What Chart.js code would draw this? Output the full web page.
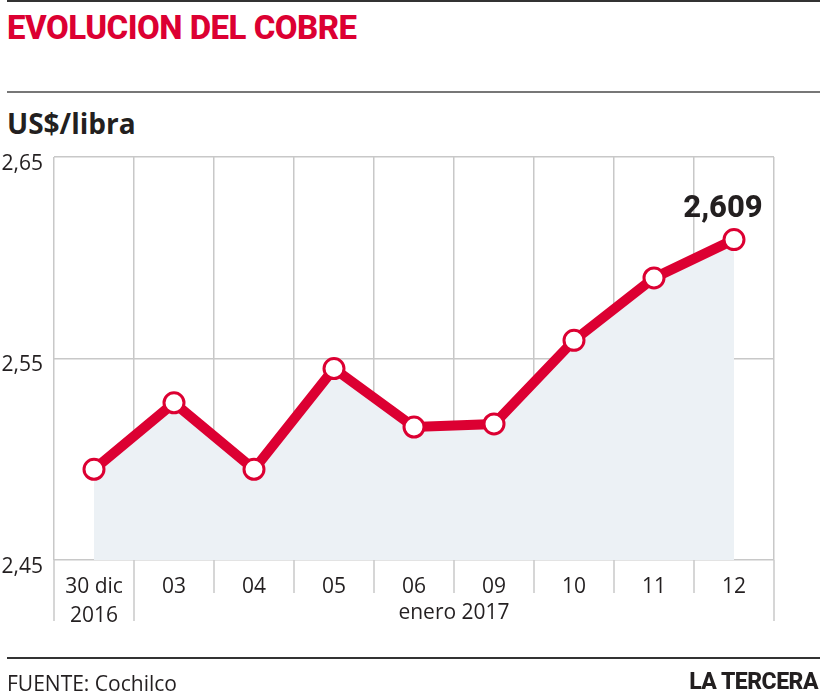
<!DOCTYPE html>
<html>
<head>
<meta charset="utf-8">
<script src="https://cdn.jsdelivr.net/npm/chart.js@4.4.1/dist/chart.umd.min.js"></script>
<style>
  html, body { margin: 0; padding: 0; background: #fff; }
  body { width: 820px; height: 700px; position: relative; overflow: hidden; font-family: "Open Sans", sans-serif; color: #231f20; }
  .rule { position: absolute; left: 7px; right: 0; height: 2px; }
  #title { position: absolute; left: 7px; top: 8px; font: 800 33px Roboto, sans-serif; color: #dc0032; letter-spacing: -0.5px; }
  #unit { position: absolute; left: 7px; top: 104px; font: 700 28px "Open Sans", sans-serif; }
  #source { position: absolute; left: 7px; top: 669px; font: 400 21px "Open Sans", sans-serif; }
  #brand { position: absolute; right: 2px; top: 668px; font: 800 23px Roboto, sans-serif; letter-spacing: -0.5px; }
  canvas { position: absolute; left: 0; top: 0; }
</style>
</head>
<body>
<div class="rule" style="top:0;background:#333"></div>
<div id="title">EVOLUCION DEL COBRE</div>
<div class="rule" style="top:91px;background:#777"></div>
<div id="unit">US$/libra</div>
<canvas id="chart" width="820" height="700"></canvas>
<div class="rule" style="top:657px;background:#333"></div>
<div id="source">FUENTE: Cochilco</div>
<div id="brand">LA TERCERA</div>

<script>
// chart data
const labels = [["30 dic", "2016"], "03", "04", "05", "06", "09", "10", "11", "12"];
const prices = [2.495, 2.528, 2.495, 2.545, 2.516, 2.5175, 2.559, 2.590, 2.609];
const yTicks = [2.45, 2.55, 2.65];
const groupLabel = "enero 2017";
const lastLabel = "2,609";

const red = "#dc0032";
const gridColor = "#c8c8c8";
const textColor = "#231f20";

// extra bits: longer grid lines under axis, month label, last value
const extras = {
  id: "extras",
  afterDraw(chart) {
    const { ctx, chartArea } = chart;
    const x = chart.scales.x;
    ctx.save();
    ctx.strokeStyle = gridColor;
    ctx.lineWidth = 1.5;
    for (let i = 0; i <= labels.length; i++) {
      const px = x.getPixelForValue(i - 0.5);
      const long = i <= 1 || i === labels.length;
      ctx.beginPath();
      ctx.moveTo(px, chartArea.bottom);
      ctx.lineTo(px, chartArea.bottom + (long ? 61 : 33));
      ctx.stroke();
    }

    ctx.fillStyle = textColor;
    ctx.font = '400 21px "Open Sans", sans-serif';
    ctx.textAlign = "center";
    ctx.textBaseline = "middle";
    const gx = (x.getPixelForValue(1) + x.getPixelForValue(labels.length - 1)) / 2;
    ctx.fillText(groupLabel, gx, chartArea.bottom + 53);

    const meta = chart.getDatasetMeta(0);
    const pt = meta.data[meta.data.length - 1];
    ctx.font = '800 31px Roboto, sans-serif';
    ctx.fillText(lastLabel, pt.x - 11, pt.y - 30);
    ctx.restore();
  }
};

new Chart(document.getElementById("chart"), {
  type: "line",
  data: {
    labels: labels,
    datasets: [{
      data: prices,
      borderColor: red,
      borderWidth: 10,
      backgroundColor: "#ecf1f5",
      fill: "start",
      tension: 0,
      pointRadius: 10,
      pointBorderWidth: 3,
      pointBorderColor: red,
      pointBackgroundColor: "#fff",
      pointHoverRadius: 10
    }]
  },
  options: {
    responsive: false,
    devicePixelRatio: 1,
    animation: false,
    layout: { padding: { left: 0, top: 157, right: 46, bottom: 0 } },
    plugins: { legend: { display: false }, tooltip: { enabled: false } },
    scales: {
      x: {
        offset: true,
        border: { display: false },
        grid: { color: gridColor, lineWidth: 1.5, drawTicks: false, offset: true },
        ticks: {
          color: textColor,
          padding: 12,
          maxRotation: 0,
          autoSkip: false,
          font: { family: "Open Sans", size: 21, lineHeight: 1.4 }
        },
        afterFit(scale) { scale.height = 140; }
      },
      y: {
        min: 2.45,
        max: 2.65,
        border: { display: false },
        grid: { color: gridColor, lineWidth: 1.5, drawTicks: false },
        afterBuildTicks(scale) { scale.ticks = yTicks.map(v => ({ value: v })); },
        ticks: {
          color: textColor,
          padding: 11,
          labelOffset: 7,
          font: { family: "Open Sans", size: 21 },
          callback: v => v.toFixed(2).replace(".", ",")
        },
        afterFit(scale) { scale.width = 54; }
      }
    }
  },
  plugins: [extras]
});
</script>
</body>
</html>
